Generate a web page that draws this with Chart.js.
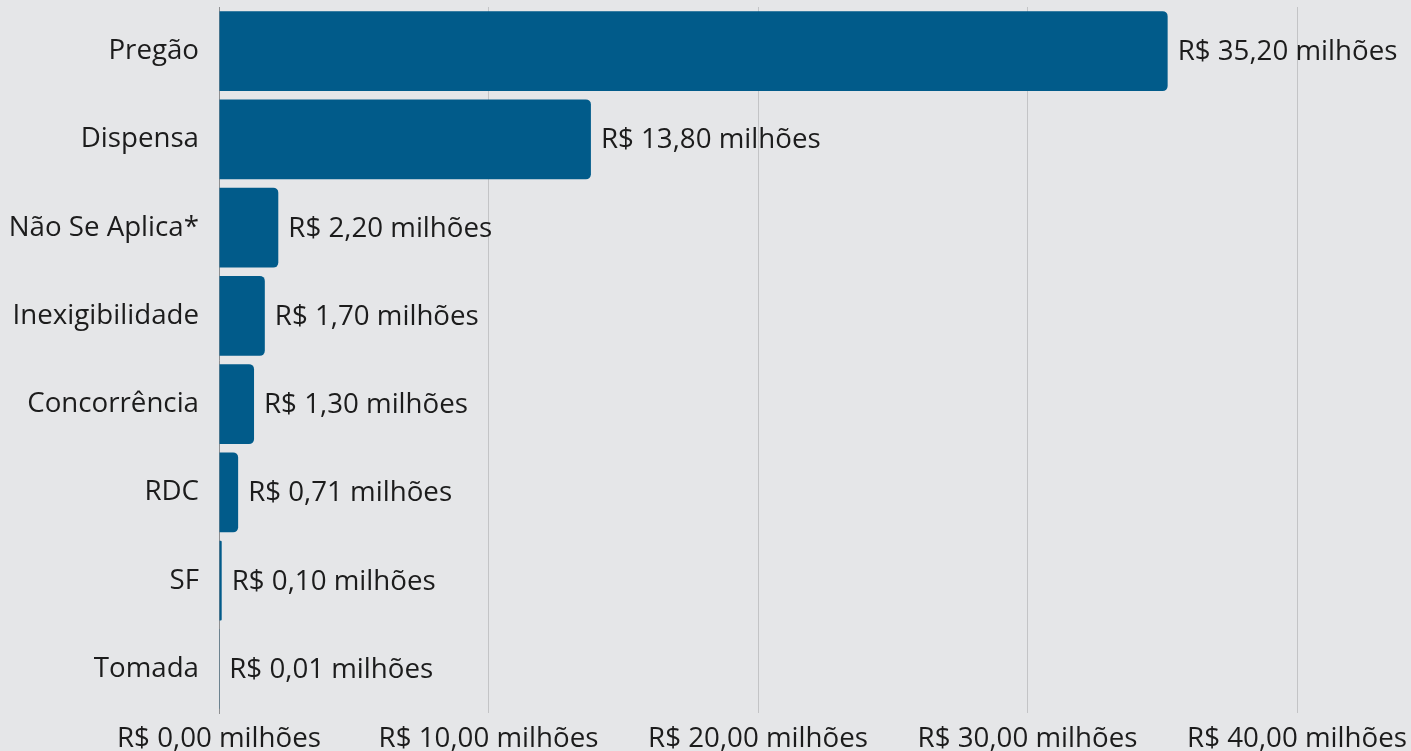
<!DOCTYPE html>
<html lang="pt-BR">
<head>
<meta charset="utf-8">
<title>Valor por modalidade de licitação</title>
<script src="https://cdn.jsdelivr.net/npm/chart.js@4.4.1/dist/chart.umd.min.js"></script>
<style>
  html, body { margin: 0; padding: 0; background: #e5e6e8; overflow: hidden; }
  #wrap { position: relative; width: 1411px; height: 751px; }
  canvas { display: block; }
</style>
</head>
<body>
<div id="wrap"><canvas id="chart" width="1411" height="751"></canvas></div>
<script>
// Modalidades e valores (em milhões de R$)
const categories = ["Pregão", "Dispensa", "Não Se Aplica*", "Inexigibilidade", "Concorrência", "RDC", "SF", "Tomada"];
const values = [35.20, 13.80, 2.20, 1.70, 1.30, 0.71, 0.10, 0.01];
const xTicks = [0, 10, 20, 30, 40];

const BAR_COLOR = "#015b8a";
const TEXT_COLOR = "#1c1c1c";
const FONT = "'Open Sans', 'Noto Sans', sans-serif";
const FONT_SIZE = 27.7;

const fmt = v => "R$ " + v.toFixed(2).replace(".", ",") + " milhões";

// Rótulo de valor à direita de cada barra
const valueLabels = {
  id: "valueLabels",
  afterDatasetsDraw(chart) {
    const ctx = chart.ctx;
    const meta = chart.getDatasetMeta(0);
    ctx.save();
    ctx.font = FONT_SIZE + "px " + FONT;
    ctx.fillStyle = TEXT_COLOR;
    ctx.textAlign = "left";
    ctx.textBaseline = "middle";
    meta.data.forEach((bar, i) => {
      ctx.fillText(fmt(values[i]), bar.x + 10, bar.y + 1);
    });
    ctx.restore();
  }
};

new Chart(document.getElementById("chart"), {
  type: "bar",
  data: {
    labels: categories,
    datasets: [{
      data: values,
      backgroundColor: BAR_COLOR,
      borderRadius: 5,
      borderSkipped: "start",
      barPercentage: 0.906,
      categoryPercentage: 1.0
    }]
  },
  options: {
    indexAxis: "y",
    responsive: false,
    animation: false,
    devicePixelRatio: 1,
    layout: { padding: { top: 7, left: 0, right: 0, bottom: 0 } },
    plugins: { legend: { display: false }, tooltip: { enabled: false } },
    scales: {
      x: {
        min: 0,
        max: 40,
        afterBuildTicks(scale) { scale.ticks = xTicks.map(v => ({ value: v })); },
        afterFit(scale) {
          scale.height = 38;
          scale.paddingLeft = 0;
          scale.paddingRight = 114;
        },
        grid: { color: "#c3c4c6", lineWidth: 1, drawTicks: false },
        border: { display: false },
        ticks: {
          padding: 9,
          color: TEXT_COLOR,
          font: { family: FONT, size: FONT_SIZE },
          maxRotation: 0,
          autoSkip: false,
          callback: v => fmt(v)
        }
      },
      y: {
        afterFit(scale) {
          scale.width = 219;
          scale.paddingTop = 0;
          scale.paddingBottom = 0;
        },
        grid: { display: false, drawTicks: false },
        border: { display: true, color: "#8e8f91", width: 1 },
        ticks: {
          padding: 20,
          color: TEXT_COLOR,
          font: { family: FONT, size: FONT_SIZE }
        }
      }
    }
  },
  plugins: [valueLabels]
});
</script>
</body>
</html>
